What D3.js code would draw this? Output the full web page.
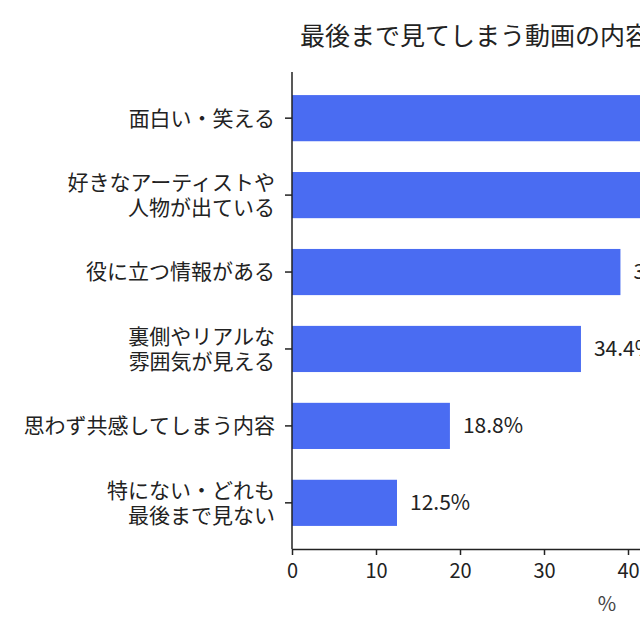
<!DOCTYPE html>
<html><head><meta charset="utf-8">
<script src="https://cdn.jsdelivr.net/npm/d3@7"></script>
<style>body{margin:0;background:#fff;} svg{display:block;}</style>
</head><body>
<svg id="c" width="640" height="640"></svg>
<script>
const categories = [
  ["面白い・笑える"],
  ["好きなアーティストや","人物が出ている"],
  ["役に立つ情報がある"],
  ["裏側やリアルな","雰囲気が見える"],
  ["思わず共感してしまう内容"],
  ["特にない・どれも","最後まで見ない"]
];
const values = [62.5, 46.9, 39.1, 34.4, 18.8, 12.5];
const xTicks = [0, 10, 20, 30, 40, 50, 60, 70];
const title = "最後まで見てしまう動画の内容";
const xLabel = "%";

const font = "'Noto Sans CJK JP','Noto Sans',sans-serif";
const svg = d3.select("#c");
const x = d3.scaleLinear().domain([0, 75]).range([292, 922]);
const y = d3.scaleBand().domain(d3.range(values.length)).range([72, 549]).paddingInner(0.4).paddingOuter(0.3);

svg.append("text").attr("x", 300).attr("y", 45).attr("font-family", font).attr("font-size", 25)
  .attr("fill", "#222").text(title);

svg.selectAll("rect.bar").data(values).join("rect").attr("class","bar")
  .attr("x", x(0)).attr("y", (d,i)=>y(i)).attr("width", d=>x(d)-x(0)).attr("height", y.bandwidth())
  .attr("fill", "#4a6cf2");

svg.selectAll("text.val").data(values).join("text").attr("class","val")
  .attr("x", d=>x(d)+13).attr("y", (d,i)=>y(i)+y.bandwidth()/2).attr("dy","0.35em")
  .attr("font-family", font).attr("font-size", 21).attr("fill","#222")
  .text(d=>d.toFixed(1)+"%");

// y axis
const ya = svg.append("g").attr("transform", `translate(${x(0)},0)`);
ya.append("line").attr("x1",0).attr("x2",0).attr("y1",72).attr("y2",549).attr("stroke","#222").attr("stroke-width",1.5);
categories.forEach((lines,i)=>{
  const cy = y(i)+y.bandwidth()/2;
  ya.append("line").attr("x1",-7).attr("x2",0).attr("y1",cy).attr("y2",cy).attr("stroke","#222").attr("stroke-width",1.5);
  const n = lines.length, lh = 25;
  lines.forEach((l,j)=>{
    ya.append("text").attr("x",-17).attr("y", cy + (j-(n-1)/2)*lh).attr("dy","0.35em")
      .attr("text-anchor","end").attr("font-family",font).attr("font-size",21).attr("fill","#222").text(l);
  });
});

// x axis
const xa = svg.append("g").attr("transform","translate(0,549)")
  .call(d3.axisBottom(x).tickValues(xTicks).tickSize(6).tickPadding(9).tickSizeOuter(0));
xa.select(".domain").attr("stroke","#222").attr("stroke-width",1.5);
xa.selectAll(".tick line").attr("stroke","#222").attr("stroke-width",1.5);
xa.selectAll(".tick text").attr("font-family",font).attr("font-size",20).attr("fill","#222");

svg.append("text").attr("x", (x.range()[0]+x.range()[1])/2).attr("y", 611).attr("text-anchor","middle")
  .attr("font-family",font).attr("font-size",20).attr("fill","#444").text(xLabel);
</script>
</body></html>
